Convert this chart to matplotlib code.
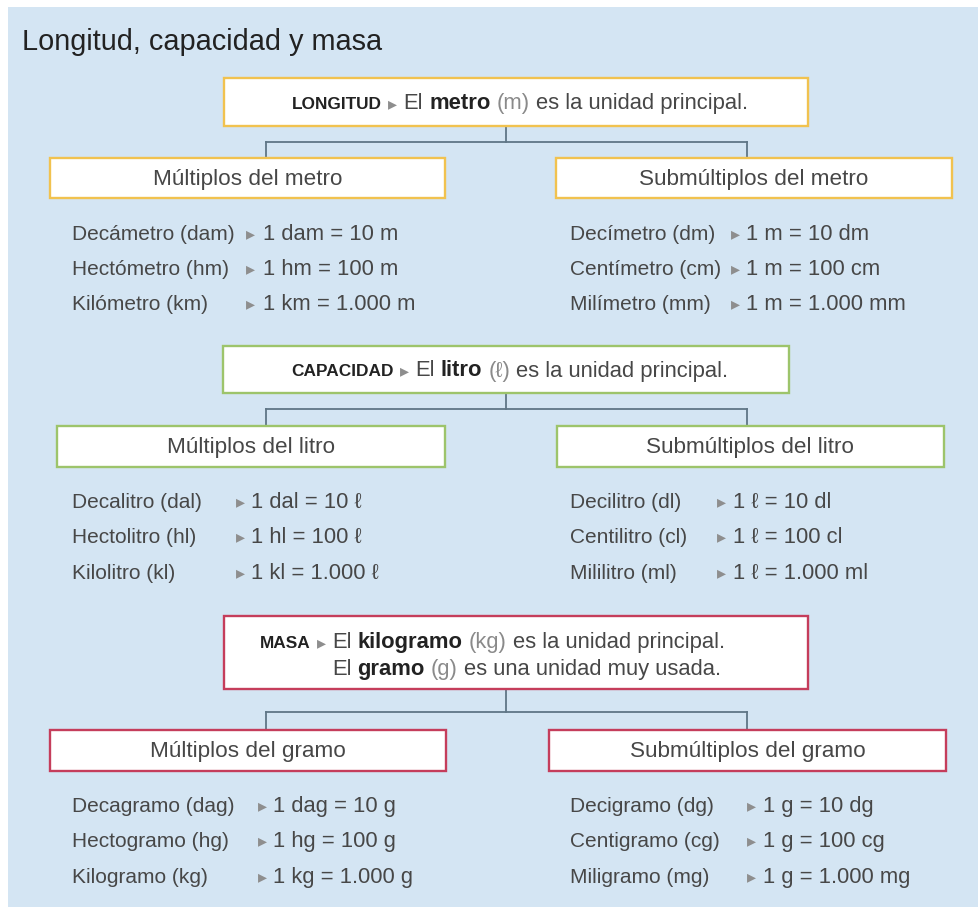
import matplotlib
matplotlib.use("Agg")
import matplotlib.pyplot as plt
from matplotlib.patches import Rectangle

plt.rcParams['font.family'] = ['Liberation Sans', 'DejaVu Sans']

# ---- contenido ----
titulo = "Longitud, capacidad y masa"

magnitudes = ["LONGITUD", "CAPACIDAD", "MASA"]
unidades_principales = ["metro", "litro", "kilogramo"]
simbolos_principales = ["(m)", "(ℓ)", "(kg)"]
unidad_usada = ["gramo", "(g)"]

cab_multiplos = ["Múltiplos del metro", "Múltiplos del litro", "Múltiplos del gramo"]
cab_submultiplos = ["Submúltiplos del metro", "Submúltiplos del litro", "Submúltiplos del gramo"]

multiplos_metro = ["Decámetro (dam)", "Hectómetro (hm)", "Kilómetro (km)"]
eq_multiplos_metro = ["1 dam = 10 m", "1 hm = 100 m", "1 km = 1.000 m"]
submultiplos_metro = ["Decímetro (dm)", "Centímetro (cm)", "Milímetro (mm)"]
eq_submultiplos_metro = ["1 m = 10 dm", "1 m = 100 cm", "1 m = 1.000 mm"]

multiplos_litro = ["Decalitro (dal)", "Hectolitro (hl)", "Kilolitro (kl)"]
eq_multiplos_litro = ["1 dal = 10 ℓ", "1 hl = 100 ℓ", "1 kl = 1.000 ℓ"]
submultiplos_litro = ["Decilitro (dl)", "Centilitro (cl)", "Mililitro (ml)"]
eq_submultiplos_litro = ["1 ℓ = 10 dl", "1 ℓ = 100 cl", "1 ℓ = 1.000 ml"]

multiplos_gramo = ["Decagramo (dag)", "Hectogramo (hg)", "Kilogramo (kg)"]
eq_multiplos_gramo = ["1 dag = 10 g", "1 hg = 100 g", "1 kg = 1.000 g"]
submultiplos_gramo = ["Decigramo (dg)", "Centigramo (cg)", "Miligramo (mg)"]
eq_submultiplos_gramo = ["1 g = 10 dg", "1 g = 100 cg", "1 g = 1.000 mg"]

# ---- estilo ----
FONDO = "#d4e5f3"
TEXTO = "#474747"
OSCURO = "#222222"
FLECHA = "#8e8e8e"
LINEA = "#5f7686"
BORDES = ["#f1c24f", "#9dc46b", "#c53d5b"]
FS = 15.0
FS_CAB = 16.2
FS_HEAD = 15.8

W, H = 979, 907
fig = plt.figure(figsize=(W / 100, H / 100), dpi=100)
ax = fig.add_axes([0, 0, 1, 1])
ax.set_xlim(0, W)
ax.set_ylim(H, 0)
ax.axis('off')
rend = fig.canvas.get_renderer()

ax.add_patch(Rectangle((8, 7), W - 8, H - 7, fc=FONDO, ec='none'))
ax.text(22, 50, titulo, fontsize=20.8, color=OSCURO, va='baseline')


def ancho(t):
    return t.get_window_extent(rend).width


def texto_mixto(x, y, piezas, centrado=False):
    # piezas: (texto, fontsize, weight, color)
    a1 = ax.text(0, 0, "a a", fontsize=FS_HEAD)
    a2 = ax.text(0, 0, "aa", fontsize=FS_HEAD)
    hueco = ancho(a1) - ancho(a2)
    a1.remove()
    a2.remove()
    arts = []
    for txt, fs, wt, col in piezas:
        arts.append(ax.text(0, y, txt, fontsize=fs, fontweight=wt, color=col, va='baseline', zorder=3))
    total = sum(ancho(a) for a in arts) + hueco * (len(arts) - 1)
    cx = x - total / 2 if centrado else x
    for a in arts:
        a.set_x(cx)
        cx += ancho(a) + hueco
    return arts


def caja(x0, y0, x1, y1, color):
    ax.add_patch(Rectangle((x0, y0), x1 - x0, y1 - y0, fc='white', ec=color, lw=1.7, zorder=2))


# cajas principales: (x0, y0, x1, y1)
cajas_princ = [(224, 78, 808, 126), (223, 346, 789, 393), (224, 616, 808, 689)]
ys_conector = [142, 409, 712]
cajas_mult = [(50, 158, 445, 198), (57, 426, 445, 467), (50, 730, 446, 771)]
cajas_sub = [(556, 158, 952, 198), (557, 426, 944, 467), (549, 730, 946, 771)]
ys_filas = [[233, 268, 303], [501, 536, 572], [805, 840, 876]]
cols_izq = [(72, 246, 263), (72, 236, 251), (72, 258, 273)]
cols_der = [(570, 731, 746), (570, 717, 733), (570, 747, 763)]
x_izq_con = 266
x_der_con = 747

filas = [
    (multiplos_metro, eq_multiplos_metro, submultiplos_metro, eq_submultiplos_metro),
    (multiplos_litro, eq_multiplos_litro, submultiplos_litro, eq_submultiplos_litro),
    (multiplos_gramo, eq_multiplos_gramo, submultiplos_gramo, eq_submultiplos_gramo),
]

for i in range(3):
    col = BORDES[i]
    x0, y0, x1, y1 = cajas_princ[i]
    caja(x0, y0, x1, y1, col)
    xm = 506
    yc = ys_conector[i]
    ax.plot([xm, xm], [y1, yc], color=LINEA, lw=1.3, zorder=1)
    ax.plot([x_izq_con, x_der_con], [yc, yc], color=LINEA, lw=1.3, zorder=1)
    ax.plot([x_izq_con, x_izq_con], [yc, cajas_mult[i][1]], color=LINEA, lw=1.3, zorder=1)
    ax.plot([x_der_con, x_der_con], [yc, cajas_sub[i][1]], color=LINEA, lw=1.3, zorder=1)

    cabecera = [(magnitudes[i], 12.4, 'bold', OSCURO), ("▸", 13, 'normal', FLECHA),
                ("El", FS_HEAD, 'normal', TEXTO), (unidades_principales[i], FS_HEAD, 'bold', OSCURO),
                (simbolos_principales[i], FS_HEAD, 'normal', "#8a8a8a"),
                ("es la unidad principal.", FS_HEAD, 'normal', TEXTO)]
    if i < 2:
        texto_mixto((x0 + x1) / 2 + 4, (y0 + y1) / 2 + 7, cabecera, centrado=True)
    else:
        arts = texto_mixto(260, 648, cabecera)
        x_el = arts[2].get_position()[0]
        texto_mixto(x_el, 675, [("El", FS_HEAD, 'normal', TEXTO), (unidad_usada[0], FS_HEAD, 'bold', OSCURO),
                                (unidad_usada[1], FS_HEAD, 'normal', "#8a8a8a"),
                                ("es una unidad muy usada.", FS_HEAD, 'normal', TEXTO)])

    for cj, cab in ((cajas_mult[i], cab_multiplos[i]), (cajas_sub[i], cab_submultiplos[i])):
        caja(*cj, col)
        ax.text((cj[0] + cj[2]) / 2, (cj[1] + cj[3]) / 2 + 7, cab, fontsize=FS_CAB, color=TEXTO,
                ha='center', va='baseline', zorder=3)

    nombres_i, eq_i, nombres_d, eq_d = filas[i]
    for j, yy in enumerate(ys_filas[i]):
        for (xl, xf, xv), nom, eq in ((cols_izq[i], nombres_i[j], eq_i[j]),
                                      (cols_der[i], nombres_d[j], eq_d[j])):
            ax.text(xl, yy + 7, nom, fontsize=FS, color=TEXTO, va='baseline')
            ax.text(xf, yy + 6, "▸", fontsize=13, color=FLECHA, va='baseline')
            ax.text(xv, yy + 7, eq, fontsize=FS + 0.8, color=TEXTO, va='baseline')

fig.savefig("out.png", dpi=100)
